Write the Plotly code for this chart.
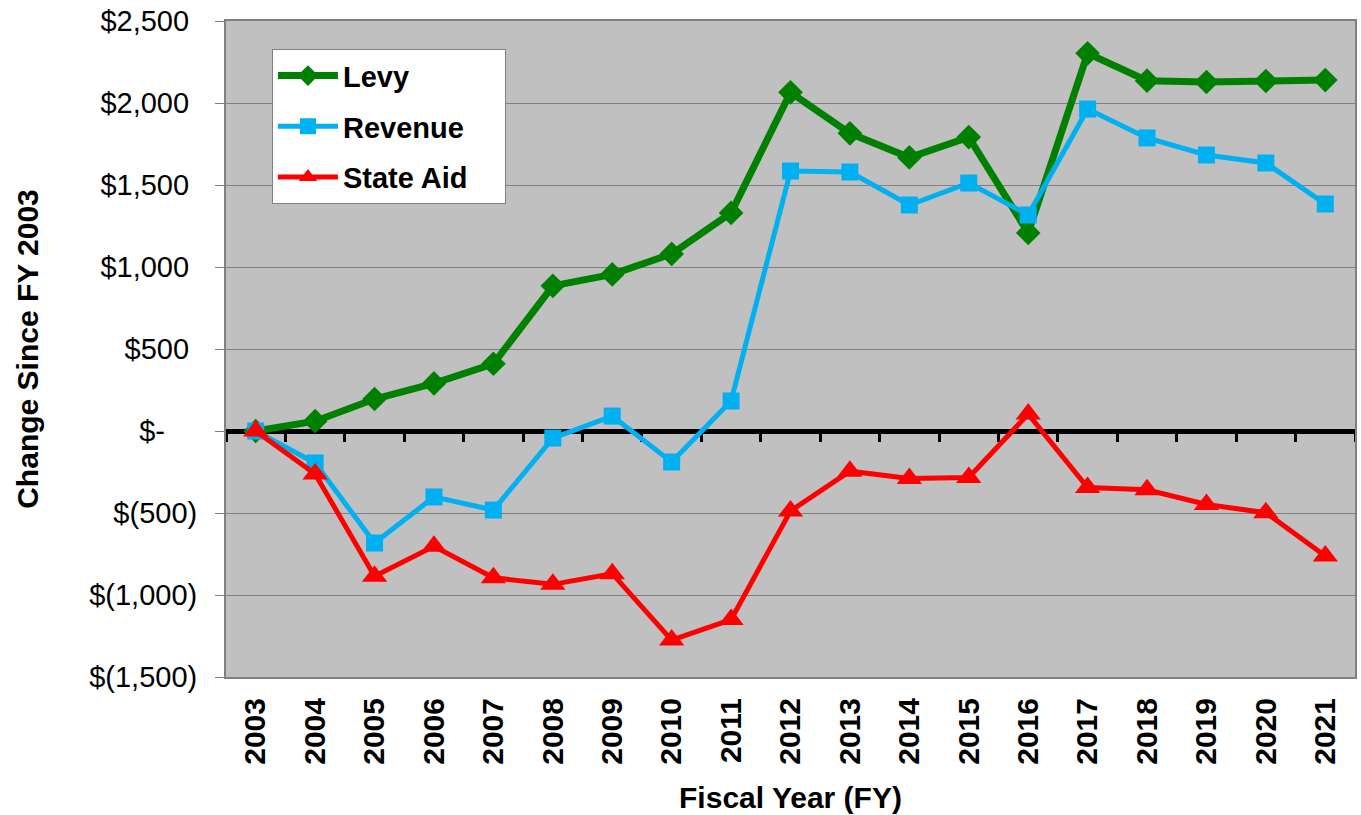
import plotly.graph_objects as go

years = [str(y) for y in range(2003, 2022)]
levy = [0, 60, 195, 290, 410, 885, 955, 1080, 1330, 2065, 1815, 1668, 1792, 1208, 2303, 2136, 2128, 2134, 2140]
revenue = [0, -195, -683, -402, -482, -43, 91, -189, 183, 1585, 1579, 1378, 1512, 1317, 1963, 1787, 1683, 1634, 1384]
state_aid = [0, -262, -885, -703, -895, -935, -870, -1275, -1150, -488, -245, -290, -284, 103, -345, -358, -448, -498, -762]

ytick_vals = [-1500, -1000, -500, 0, 500, 1000, 1500, 2000, 2500]
ytick_text = ["$(1,500)", "$(1,000)", "$(500)", "$-\u00a0\u00a0\u00a0\u00a0",
              "$500\u00a0", "$1,000\u00a0", "$1,500\u00a0", "$2,000\u00a0", "$2,500\u00a0"]

FONT = "Liberation Sans, Arial, sans-serif"
PAD = "\u00a0\u00a0\u00a0\u00a0"

fig = go.Figure()
fig.add_trace(go.Scatter(
    x=years, y=levy, name="<b>Levy</b>" + PAD, mode="lines+markers",
    line=dict(color="#008000", width=7),
    marker=dict(symbol="diamond", size=19, color="#008000", line=dict(width=0)),
    legendgroup="a",
))
fig.add_trace(go.Scatter(
    x=years, y=revenue, name="<b>Revenue</b>" + PAD, mode="lines+markers",
    line=dict(color="#00B0F0", width=5),
    marker=dict(symbol="square", size=17, color="#00B0F0", line=dict(width=0)),
    legendgroup="b",
))
fig.add_trace(go.Scatter(
    x=years, y=state_aid, name="<b>State Aid</b>" + PAD, mode="lines+markers",
    line=dict(color="#FF0000", width=5),
    marker=dict(symbol="triangle-up", size=22, color="#FF0000", line=dict(width=0)),
    legendgroup="c", xaxis="x2",
))

fig.update_layout(
    width=1361, height=815,
    margin=dict(l=226, r=6, t=21, b=138, autoexpand=False),
    paper_bgcolor="white",
    plot_bgcolor="#C0C0C0",
    font=dict(family=FONT, color="black", size=29),
    showlegend=True,
    legend=dict(
        x=0.0407, y=0.957, xanchor="left", yanchor="top",
        bgcolor="white", bordercolor="#808080", borderwidth=1,
        font=dict(size=29, family=FONT, color="black"),
        itemwidth=60, tracegroupgap=10, traceorder="grouped",
    ),
    xaxis=dict(
        type="category", range=[-0.5, 18.5], automargin=False,
        showgrid=False, zeroline=False,
        showline=True, linecolor="#808080", linewidth=2, mirror=True,
        ticks="", tickangle=-90,
        tickfont=dict(size=30, family=FONT, weight="bold"),
        ticklabelstandoff=7, ticklabeloverflow="allow",
        title=dict(text="<b>Fiscal Year (FY)</b>", font=dict(size=30, family=FONT), standoff=23),
    ),
    xaxis2=dict(
        type="category", matches="x", overlaying="x", anchor="free", position=0.375,
        automargin=False,
        showgrid=False, zeroline=False,
        showline=True, linecolor="black", linewidth=5,
        ticks="outside", tickson="boundaries", ticklen=8, tickwidth=3, tickcolor="black",
        showticklabels=False, layer="below traces",
    ),
    yaxis=dict(
        range=[-1500, 2500], tickvals=ytick_vals, ticktext=ytick_text, automargin=False,
        showgrid=True, gridcolor="#808080", gridwidth=1,
        zeroline=False,
        showline=True, linecolor="#808080", linewidth=2, mirror=True,
        ticks="outside", ticklen=9, tickcolor="#808080", tickwidth=1,
        tickfont=dict(size=29, family=FONT),
        ticklabelstandoff=12, ticklabeloverflow="allow",
        title=dict(text="<b>Change Since FY 2003</b>", font=dict(size=30, family=FONT), standoff=42),
    ),
)

fig.write_html("out.html", config={"displayModeBar": False},
               post_script="document.body.style.margin='0';")
